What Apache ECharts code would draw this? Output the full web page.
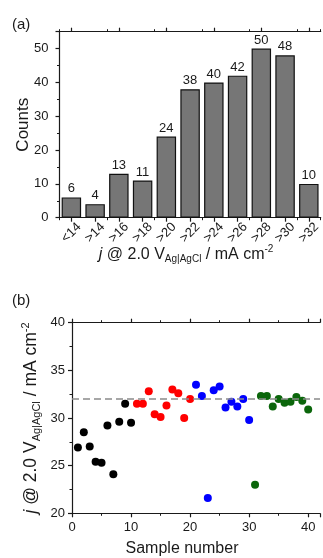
<!DOCTYPE html>
<html>
<head>
<meta charset="utf-8">
<script src="https://cdn.jsdelivr.net/npm/echarts@6.0.0/dist/echarts.min.js"></script>
<style>
  html, body { margin: 0; padding: 0; background: #fff; }
  #chart { width: 323px; height: 558px; }
</style>
</head>
<body>
<div id="chart"></div>
<script>
// (a) histogram
const bins = ['<14', '>14', '>16', '>18', '>20', '>22', '>24', '>26', '>28', '>30', '>32'];
const counts = [6, 4, 13, 11, 24, 38, 40, 42, 50, 48, 10];

// (b) current density per sample, four batches of ten
const batch1 = [26.9, 28.5, 27.0, 25.4, 25.3, 29.2, 24.1, 29.6, 31.5, 29.5];
const batch2 = [31.5, 31.5, 32.8, 30.4, 30.1, 31.3, 33.0, 32.6, 30.0, 32.0];
const batch3 = [33.5, 32.3, 21.6, 32.9, 33.3, 31.1, 31.7, 31.2, 32.0, 29.8];
const batch4 = [23.0, 32.3, 32.3, 31.2, 32.0, 31.6, 31.7, 32.2, 31.8, 30.9];
const batchColors = ['#000000', '#ff0000', '#0000ff', '#0b660b'];
const meanLine = 32;

const font = "'Liberation Sans', Arial, sans-serif";
const ink = '#1a1a1a';

function richName(size, small) {
    return {
        m: { fontSize: size, lineHeight: size + 4, verticalAlign: 'middle', color: ink, fontFamily: font },
        i: { fontSize: size, lineHeight: size + 4, verticalAlign: 'middle', color: ink, fontFamily: font, fontStyle: 'italic' },
        sub: { fontSize: small, lineHeight: small + 1, verticalAlign: 'bottom', color: ink, fontFamily: font },
        sup: { fontSize: small, lineHeight: small + 1, verticalAlign: 'top', color: ink, fontFamily: font },
    };
}
const jName = '{i|j}{m| @ 2.0 V}{sub|Ag|AgCl}{m| / mA cm}{sup|-2}';

const axisLine = { lineStyle: { color: ink, width: 1.2 } };
const tickMajor = { show: true, length: 4, lineStyle: { color: ink, width: 1.2 } };
const tickMinor = { show: true, length: 2.5, splitNumber: 2, lineStyle: { color: ink, width: 1 } };
const tickLabel = { color: ink, fontSize: 13, fontFamily: font };

function toPoints(values, start) {
    return values.map((v, k) => [start + k, v]);
}

const chart = echarts.init(document.getElementById('chart'));
chart.setOption({
    animation: false,
    textStyle: { fontFamily: font },
    graphic: [
        { type: 'text', left: 12, top: 17, style: { text: '(a)', fontSize: 15, fill: ink, fontFamily: font } },
        { type: 'text', left: 12, top: 293, style: { text: '(b)', fontSize: 15, fill: ink, fontFamily: font } },
    ],
    grid: [
        { left: 59.5, top: 31.7, width: 268.5, height: 186 },
        { left: 72, top: 322.7, width: 259.6, height: 190.6 },
    ],
    xAxis: [
        {
            gridIndex: 0, type: 'category', data: bins, position: 'bottom',
            axisLine, axisTick: { ...tickMajor, alignWithLabel: true },
            axisLabel: { ...tickLabel, rotate: 45, margin: 15, interval: 0, align: 'center', verticalAlign: 'middle' },
            name: jName, nameLocation: 'middle', nameGap: 27, nameMoveOverlap: false,
            nameTextStyle: { rich: richName(16, 10), padding: [0, 8, 0, 0] },
        },
        {
            gridIndex: 0, type: 'category', data: bins, position: 'top',
            axisLine, axisTick: { ...tickMajor, alignWithLabel: true }, axisLabel: { show: false },
        },
        {
            gridIndex: 0, type: 'category', data: bins, position: 'bottom',
            axisLine: { show: false }, axisTick: tickMinor, axisLabel: { show: false },
        },
        {
            gridIndex: 0, type: 'category', data: bins, position: 'top',
            axisLine: { show: false }, axisTick: tickMinor, axisLabel: { show: false },
        },
        {
            gridIndex: 1, type: 'value', min: 0, max: 42, interval: 10, position: 'bottom',
            axisLine, axisTick: tickMajor, minorTick: tickMinor, splitLine: { show: false },
            axisLabel: { ...tickLabel, margin: 8, formatter: v => (v % 10 === 0 ? String(v) : '') },
            name: 'Sample number', nameLocation: 'middle', nameGap: 27, nameMoveOverlap: false,
            nameTextStyle: { fontSize: 16, color: ink, fontFamily: font, padding: [0, 28, 0, 0] },
        },
        {
            gridIndex: 1, type: 'value', min: 0, max: 42, interval: 10, position: 'top',
            axisLine, axisTick: tickMajor, minorTick: tickMinor, splitLine: { show: false },
            axisLabel: { show: false },
        },
    ],
    yAxis: [
        {
            gridIndex: 0, type: 'value', min: 0, max: 55, interval: 10,
            axisLine: { show: true, ...axisLine }, axisTick: tickMajor, minorTick: tickMinor, splitLine: { show: false },
            axisLabel: { ...tickLabel, margin: 11, formatter: v => (v % 10 === 0 ? String(v) : '') },
            name: 'Counts', nameLocation: 'middle', nameGap: 28, nameMoveOverlap: false,
            nameTextStyle: { fontSize: 17, color: ink, fontFamily: font },
        },
        {
            gridIndex: 1, type: 'value', min: 20, max: 40, interval: 5,
            axisLine: { show: true, ...axisLine }, axisTick: tickMajor, minorTick: tickMinor, splitLine: { show: false },
            axisLabel: { ...tickLabel, margin: 7 },
            name: jName, nameLocation: 'middle', nameGap: 30, nameMoveOverlap: false,
            nameTextStyle: { rich: richName(17.5, 11) },
        },
    ],
    series: [
        {
            type: 'bar', xAxisIndex: 0, yAxisIndex: 0, data: counts,
            barCategoryGap: '18%',
            itemStyle: { color: '#767676', borderColor: '#111', borderWidth: 1.2 },
            label: { show: true, position: 'top', distance: 2, color: ink, fontSize: 13, fontFamily: font },
        },
        ...[batch1, batch2, batch3, batch4].map((vals, b) => ({
            type: 'scatter', xAxisIndex: 4, yAxisIndex: 1,
            data: toPoints(vals, 1 + b * 10),
            symbolSize: 8,
            itemStyle: { color: batchColors[b], opacity: 1 },
            markLine: b === 0 ? {
                silent: true, symbol: 'none', label: { show: false },
                lineStyle: { color: '#8a8a8a', type: [7, 4], width: 1.5 },
                data: [{ yAxis: meanLine }],
            } : undefined,
            z: 3,
        })),
    ],
});
</script>
</body>
</html>
